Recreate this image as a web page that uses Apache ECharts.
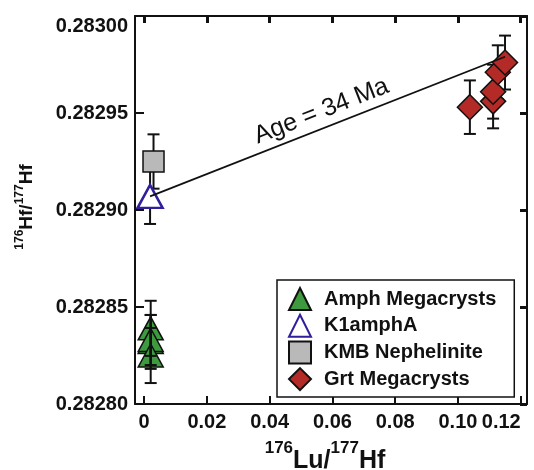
<!DOCTYPE html>
<html>
<head>
<meta charset="utf-8">
<script src="https://cdn.jsdelivr.net/npm/echarts@6/dist/echarts.min.js"></script>
<style>
  html, body { margin: 0; padding: 0; background: #fff; }
  #chart { width: 534px; height: 470px; }
</style>
</head>
<body>
<div id="chart"></div>
<script>
// ---------------- data ----------------
const amphX = [0.0021, 0.0021, 0.0021, 0.0021];
const amphY = [0.282839, 0.282832, 0.282833, 0.282825];
const amphErr = [0.0000142, 0.0000139, 0.0000129, 0.0000142];

const k1X = [0.0019];
const k1Y = [0.282907];
const k1Err = [0.0000142];

const kmbX = [0.0030];
const kmbY = [0.282925];
const kmbErr = [0.0000140];

const grtX = [0.1038, 0.1112, 0.1112, 0.1127, 0.1150];
const grtY = [0.282953, 0.282956, 0.282961, 0.282971, 0.282976];
const grtErr = [0.0000138, 0.0000139, 0.0000139, 0.0000139, 0.0000139];

// regression line (Age = 34 Ma)
const ageX = [0.0019, 0.1150];
const ageY = [0.282907, 0.282979];

const xTicks = [0, 0.02, 0.04, 0.06, 0.08, 0.10, 0.12];
const xTickLabels = ['0', '0.02', '0.04', '0.06', '0.08', '0.10', '0.12'];
const yTicks = [0.2828, 0.28285, 0.2829, 0.28295, 0.2830];
const yTickLabels = ['0.28280', '0.28285', '0.28290', '0.28295', '0.28300'];

const FONT = '"Liberation Sans", Arial, Helvetica, sans-serif';

function zip(xs, ys, es) {
    return xs.map((x, i) => es ? [x, ys[i], es[i]] : [x, ys[i]]);
}
function pickLabel(ticks, labels) {
    return function (v) {
        let i = ticks.findIndex(t => Math.abs(t - v) < 1e-9);
        return i >= 0 ? labels[i] : '';
    };
}

// error bars drawn through the axes
function renderErr(params, api) {
    let x = api.value(0), y = api.value(1), e = api.value(2);
    let top = api.coord([x, y + e]);
    let bot = api.coord([x, y - e]);
    let w = 6;
    let st = { stroke: '#111', lineWidth: 2 };
    return {
        type: 'group',
        children: [
            { type: 'line', shape: { x1: top[0], y1: top[1], x2: bot[0], y2: bot[1] }, style: st },
            { type: 'line', shape: { x1: top[0] - w, y1: top[1], x2: top[0] + w, y2: top[1] }, style: st },
            { type: 'line', shape: { x1: bot[0] - w, y1: bot[1], x2: bot[0] + w, y2: bot[1] }, style: st }
        ]
    };
}
function errSeries(data, z) {
    return {
        type: 'custom',
        renderItem: renderErr,
        data: data,
        z: z,
        silent: true,
        encode: { x: 0, y: 1 }
    };
}

let chart = echarts.init(document.getElementById('chart'));

const axisLineStyle = { color: '#111', width: 2 };

let option = {
    animation: false,
    backgroundColor: '#fff',
    textStyle: { fontFamily: FONT },
    grid: {
        left: 135, right: 7, top: 16, bottom: 66,
        containLabel: false,
        outerBoundsMode: 'none'
    },
    legend: {
        orient: 'vertical',
        left: 277,
        top: 280,
        padding: [7, 18, 6, 11],
        itemWidth: 22,
        itemHeight: 22,
        itemGap: 2.7,
        borderColor: '#111',
        borderWidth: 1.5,
        backgroundColor: '#fff',
        selectedMode: false,
        textStyle: {
            fontFamily: FONT, fontSize: 20, fontWeight: 'bold', color: '#111',
            lineHeight: 22, padding: [0, 0, 0, 8]
        },
        data: ['Amph Megacrysts', 'K1amphA', 'KMB Nephelinite', 'Grt Megacrysts']
    },
    xAxis: [
        {
            type: 'value',
            min: -0.0029,
            max: 0.122,
            position: 'bottom',
            name: '{sup|176}{b|Lu/}{sup|177}{b|Hf}',
            nameLocation: 'middle',
            nameGap: 36,
            nameTextStyle: {
                padding: [0, 12, 0, 0],
                rich: {
                    b: { fontFamily: FONT, fontSize: 25, fontWeight: 'bold', color: '#111', lineHeight: 34, verticalAlign: 'bottom' },
                    sup: { fontFamily: FONT, fontSize: 17, fontWeight: 'bold', color: '#111', lineHeight: 18, verticalAlign: 'top' }
                }
            },
            axisLine: { show: true, onZero: false, lineStyle: axisLineStyle },
            axisTick: { show: true, inside: true, length: 8, lineStyle: { color: '#111', width: 2 }, customValues: xTicks },
            axisLabel: {
                customValues: xTicks,
                formatter: pickLabel(xTicks, xTickLabels),
                margin: 8,
                fontFamily: FONT, fontSize: 20, fontWeight: 'bold', color: '#111',
                alignMaxLabel: 'right'
            },
            splitLine: { show: false }
        },
        {
            type: 'value',
            min: -0.0029,
            max: 0.122,
            position: 'top',
            axisLine: { show: true, onZero: false, lineStyle: axisLineStyle },
            axisTick: { show: true, inside: true, length: 7, lineStyle: { color: '#111', width: 3 }, customValues: xTicks },
            axisLabel: { show: false },
            splitLine: { show: false }
        }
    ],
    yAxis: [
        {
            type: 'value',
            min: 0.2828,
            max: 0.2830,
            position: 'left',
            name: '{sup|176}{b|Hf/}{sup|177}{b|Hf}',
            nameLocation: 'middle',
            nameGap: 99,
            nameTextStyle: {
                padding: [0, 0, 0, 6],
                rich: {
                    b: { fontFamily: FONT, fontSize: 19, fontWeight: 'bold', color: '#111', lineHeight: 22, verticalAlign: 'bottom' },
                    sup: { fontFamily: FONT, fontSize: 12, fontWeight: 'bold', color: '#111', lineHeight: 13, verticalAlign: 'top' }
                }
            },
            axisLine: { show: true, onZero: false, lineStyle: axisLineStyle },
            axisTick: { show: true, inside: true, length: 9, lineStyle: { color: '#111', width: 2 }, customValues: yTicks },
            axisLabel: {
                customValues: yTicks,
                formatter: pickLabel(yTicks, yTickLabels),
                margin: 7,
                fontFamily: FONT, fontSize: 20, fontWeight: 'bold', color: '#111',
                verticalAlignMaxLabel: 'top'
            },
            splitLine: { show: false }
        },
        {
            type: 'value',
            min: 0.2828,
            max: 0.2830,
            position: 'right',
            axisLine: { show: true, onZero: false, lineStyle: axisLineStyle },
            axisTick: { show: true, inside: true, length: 7, lineStyle: { color: '#111', width: 3 }, customValues: yTicks },
            axisLabel: { show: false },
            splitLine: { show: false }
        }
    ],
    series: [
        {
            // regression line with its label
            name: 'age',
            type: 'line',
            data: [],
            silent: true,
            z: 1,
            markLine: {
                silent: true,
                symbol: ['none', 'none'],
                lineStyle: { color: '#111', width: 1.8, type: 'solid' },
                label: {
                    show: true,
                    position: 'insideMiddleTop',
                    distance: 4,
                    formatter: 'Age = 34 Ma',
                    fontFamily: FONT, fontSize: 25, color: '#111'
                },
                emphasis: { disabled: true },
                data: [[{ coord: [ageX[0], ageY[0]] }, { coord: [ageX[1], ageY[1]] }]]
            }
        },
        errSeries(zip(k1X, k1Y, k1Err), 2),
        errSeries(zip(kmbX, kmbY, kmbErr), 2),
        errSeries(zip(grtX, grtY, grtErr), 2),
        {
            name: 'Amph Megacrysts',
            type: 'scatter',
            symbol: 'triangle',
            symbolSize: [25, 23],
            data: zip(amphX, amphY),
            z: 3,
            itemStyle: { color: '#3e9a3e', borderColor: '#111', borderWidth: 1.5, opacity: 1 },
            emphasis: { disabled: true }
        },
        {
            name: 'K1amphA',
            type: 'scatter',
            symbol: 'triangle',
            symbolSize: [25, 23],
            data: zip(k1X, k1Y),
            z: 3,
            itemStyle: { color: '#fff', borderColor: '#2f1f9c', borderWidth: 2.5, opacity: 1 },
            emphasis: { disabled: true }
        },
        {
            name: 'KMB Nephelinite',
            type: 'scatter',
            symbol: 'rect',
            symbolSize: 21,
            data: zip(kmbX, kmbY),
            z: 3,
            itemStyle: { color: '#b9b9b9', borderColor: '#111', borderWidth: 1.5, opacity: 1 },
            emphasis: { disabled: true }
        },
        {
            name: 'Grt Megacrysts',
            type: 'scatter',
            symbol: 'diamond',
            symbolSize: 25,
            data: zip(grtX, grtY),
            z: 3,
            itemStyle: { color: '#b32a26', borderColor: '#111', borderWidth: 1.5, opacity: 1 },
            emphasis: { disabled: true }
        },
        errSeries(zip(amphX, amphY, amphErr), 4)
    ]
};

chart.setOption(option);
</script>
</body>
</html>
